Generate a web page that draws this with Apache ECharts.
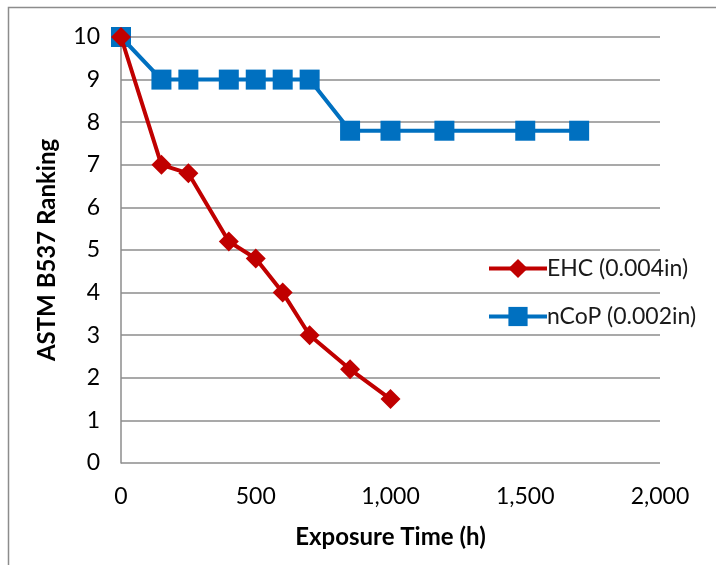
<!DOCTYPE html>
<html>
<head>
<meta charset="utf-8">
<script src="https://cdn.jsdelivr.net/npm/echarts@6/dist/echarts.min.js"></script>
<style>
  html, body { margin: 0; padding: 0; background: #fff; }
  #chart { width: 716px; height: 565px; }
</style>
</head>
<body>
<div id="chart"></div>
<script>
// exposure time (h) and ranking per series
const ehcHours = [0, 150, 250, 400, 500, 600, 700, 850, 1000]
const ehcRanking = [10, 7, 6.8, 5.2, 4.8, 4, 3, 2.2, 1.5]
const ncopHours = [0, 150, 250, 400, 500, 600, 700, 850, 1000, 1200, 1500, 1700]
const ncopRanking = [10, 9, 9, 9, 9, 9, 9, 7.8, 7.8, 7.8, 7.8, 7.8]
const seriesNames = ['EHC (0.004in)', 'nCoP (0.002in)']

const font = 'Lato, "Open Sans", sans-serif'
const chart = echarts.init(document.getElementById('chart'))

const pairs = (xs, ys) => xs.map((x, i) => [x, ys[i]])

chart.setOption({
  animation: false,
  graphic: [{
    type: 'rect',
    shape: { x: 8.5, y: 7.5, width: 720, height: 580 },
    style: { fill: 'none', stroke: '#8c8c8c', lineWidth: 1.5 },
  }],
  grid: { left: 121, right: 56, top: 37, bottom: 102 },
  legend: {
    orient: 'vertical',
    left: 482,
    top: 252,
    itemGap: 25,
    itemWidth: 58,
    itemHeight: 24,
    lineStyle: { width: 4 },
    textStyle: { fontFamily: font, fontSize: 23, color: '#1a1a1a', padding: [0, 0, 0, -5] },
    data: seriesNames,
  },
  xAxis: {
    type: 'value',
    min: 0,
    max: 2000,
    interval: 500,
    name: 'Exposure Time (h)',
    nameLocation: 'middle',
    nameGap: 62,
    nameTextStyle: { fontFamily: font, fontSize: 24, fontWeight: 'bold', color: '#000' },
    axisLine: { show: false },
    axisTick: { show: false },
    splitLine: { show: false },
    axisLabel: {
      fontFamily: font, fontSize: 23, color: '#000', margin: 22,
      formatter: (v) => v.toLocaleString('en-US'),
    },
  },
  yAxis: {
    type: 'value',
    min: 0,
    max: 10,
    interval: 1,
    name: 'ASTM B537 Ranking',
    nameLocation: 'middle',
    nameGap: 62,
    nameTextStyle: { fontFamily: font, fontSize: 24, fontWeight: 'bold', color: '#000' },
    axisLine: { show: true, lineStyle: { color: '#8c8c8c', width: 1.5 } },
    axisTick: { show: false },
    splitLine: { lineStyle: { color: '#8c8c8c', width: 1.5 } },
    axisLabel: { fontFamily: font, fontSize: 23, color: '#000', margin: 21 },
  },
  series: [
    {
      name: seriesNames[0],
      type: 'line',
      data: pairs(ehcHours, ehcRanking),
      symbol: 'diamond',
      symbolSize: 20,
      z: 3,
      lineStyle: { color: '#c00000', width: 4 },
      itemStyle: { color: '#c00000' },
    },
    {
      name: seriesNames[1],
      type: 'line',
      data: pairs(ncopHours, ncopRanking),
      symbol: 'rect',
      symbolSize: 20,
      z: 2,
      lineStyle: { color: '#0070c0', width: 4 },
      itemStyle: { color: '#0070c0' },
    },
  ],
})
</script>
</body>
</html>
